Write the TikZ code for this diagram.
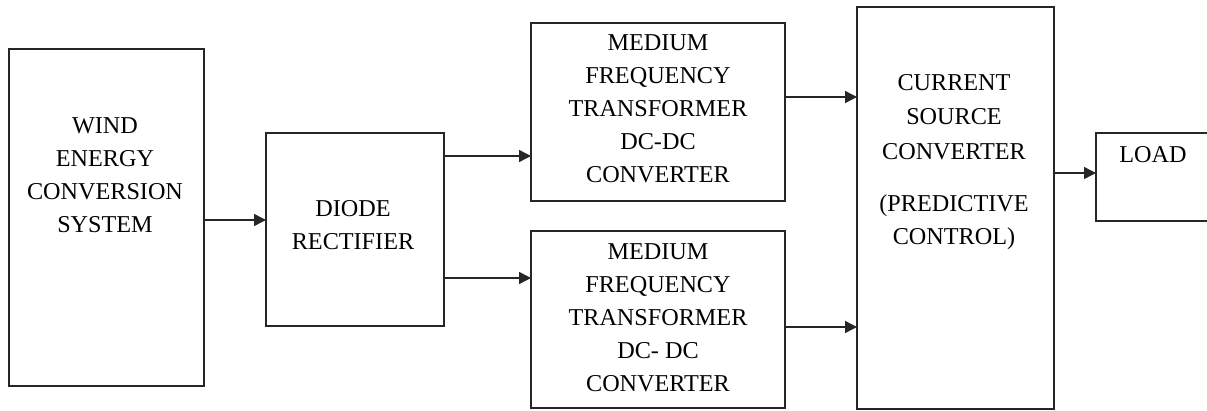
\documentclass[tikz,border=0pt]{standalone}
\usepackage{fontspec}
\setmainfont{Liberation Serif}
\usetikzlibrary{arrows.meta}
\tikzset{
  box/.style={draw=black!85, line width=1.4pt, inner sep=0pt, outer sep=0pt},
  lbl/.style={align=center, inner sep=0pt, font=\fontsize{24.2}{33}\selectfont, text=black},
  arr/.style={draw=black!85, line width=1.4pt, -{Triangle[length=12pt,width=12pt]}}
}
\begin{document}
\begin{tikzpicture}[x=1pt,y=-1pt]
\useasboundingbox (0,0) rectangle (1207,410);
% boxes
\node[box, minimum width=195pt, minimum height=337pt] (wind) at (106.5,217.5) {};
\node[box, minimum width=178pt, minimum height=193pt] (diode) at (355,229.5) {};
\node[box, minimum width=254pt, minimum height=178pt] (mf1) at (658,112) {};
\node[box, minimum width=254pt, minimum height=177pt] (mf2) at (658,319.5) {};
\node[box, minimum width=197pt, minimum height=402pt] (csc) at (955.5,208) {};
\node[box, minimum width=114pt, minimum height=88pt] (load) at (1153,177) {};
% texts
\node[lbl] (windt) at (105,175) {WIND\\ENERGY\\CONVERSION\\SYSTEM};
\node[lbl] (diodet) at (353,225.5) {DIODE\\RECTIFIER};
\node[lbl] (mf1t) at (658,108.5) {MEDIUM\\FREQUENCY\\TRANSFORMER\\DC-DC\\CONVERTER};
\node[lbl] (mf2t) at (658,317.5) {MEDIUM\\FREQUENCY\\TRANSFORMER\\DC- DC\\CONVERTER};
\node[lbl] (csct) at (954,162) {CURRENT\\[1.5pt]SOURCE\\[1.5pt]CONVERTER\\[19pt](PREDICTIVE\\CONTROL)};
\node[lbl] (loadt) at (1153,155) {LOAD};
% connectors
\draw[arr] (wind.east |- 0,220) -- (diode.west |- 0,220);
\draw[arr] (diode.east |- 0,156) -- (mf1.west |- 0,156);
\draw[arr] (diode.east |- 0,278) -- (mf2.west |- 0,278);
\draw[arr] (mf1.east |- 0,97) -- (csc.west |- 0,97);
\draw[arr] (mf2.east |- 0,327) -- (csc.west |- 0,327);
\draw[arr] (csc.east |- 0,173) -- (load.west |- 0,173);
\end{tikzpicture}
\end{document}
